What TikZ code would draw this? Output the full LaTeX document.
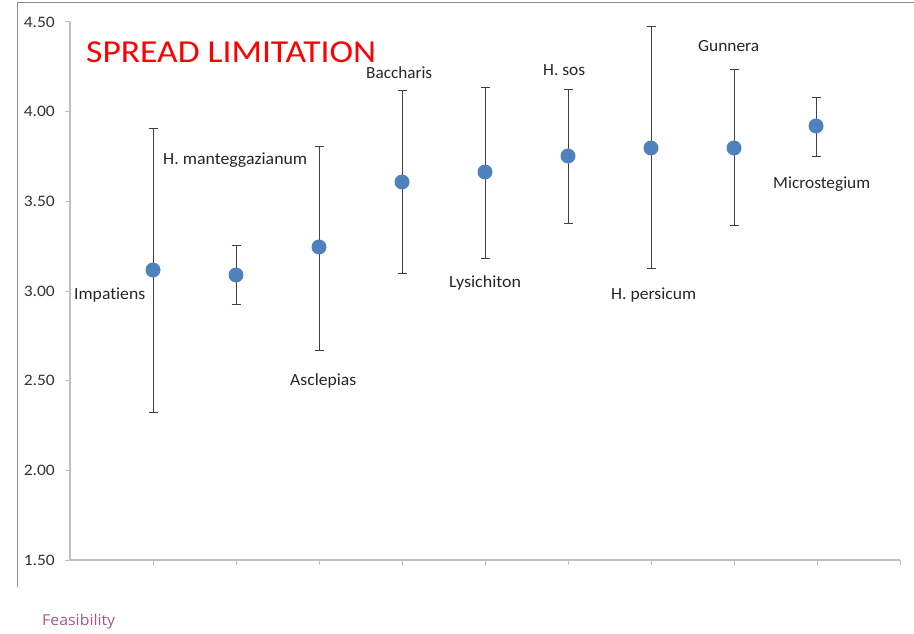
\documentclass[tikz,border=0pt]{standalone}
\usepackage{fontspec}
\usepackage{graphicx}
\setmainfont{Carlito}[Ligatures=NoCommon]
\newfontfamily\feasfont{Open Sans}
\definecolor{mark}{HTML}{4F81BD}
\definecolor{axisgray}{HTML}{BFBFBF}
\definecolor{framegray}{HTML}{8C8C8C}
\definecolor{feas}{HTML}{A5578A}
\newcommand\fitw[2]{\resizebox{#1pt}{\height}{#2}}
\begin{document}
\begin{tikzpicture}[x=1pt,y=-1pt,
  lab/.style={font=\fontsize{17}{19}\selectfont, text=black!85, inner sep=0pt, anchor=west},
  tick/.style={font=\fontsize{16}{18}\selectfont, text=black!80, inner sep=0pt, anchor=east},
  bar/.style={draw=black!75, line width=0.9pt},
  pt/.style={circle, fill=mark, minimum size=15pt, inner sep=0pt, draw=none}]
\useasboundingbox (0,0) rectangle (914,634);
% frame
\draw[framegray, line width=1.5pt] (17.5,587) -- (17.5,2.5) -- (914,2.5);
% axes
\draw[axisgray, line width=1.5pt] (70,22) -- (70,560) -- (900,560);
\foreach \v/\y in {4.50/22,4.00/111.7,3.50/201.3,3.00/291,2.50/380.7,2.00/470.3,1.50/560}{
  \draw[axisgray, line width=1pt] (65,\y) -- (70,\y);
  \node[tick] at (55,\y) {\fitw{31}{\v}};
}
\foreach \i in {1,...,10}{
  \draw[axisgray, line width=1pt] ({70+83*\i},560) -- ({70+83*\i},565);
}
% data: x, mean, top, bottom
\foreach \n/\x/\m/\t/\b in {a/153/270/128/412, b/236/275/245/304, c/319/247/146/350,
  d/402/182/90/273, e/485/172/87/258, f/568/156/89/223, g/651/148/26/268,
  h/734/148/69/225, k/816/126/97/156}{
  \coordinate (\n t) at (\x,\t);
  \coordinate (\n b) at (\x,\b);
  \draw[bar] (\n t) -- (\n b);
  \draw[bar] ([xshift=-4.5pt]\n t) -- ([xshift=4.5pt]\n t);
  \draw[bar] ([xshift=-4.5pt]\n b) -- ([xshift=4.5pt]\n b);
  \node[pt] (\n) at (\x,\m) {};
}
% title
\node[font=\fontsize{32}{34}\selectfont, text=red, anchor=west, inner sep=0pt] (title) at (86,52) {\fitw{290}{SPREAD LIMITATION}};
% labels
\node[lab] (la) at (74,295) {\fitw{71}{Impatiens}};
\node[lab] (lb) at (163,160) {\fitw{144}{H. manteggazianum}};
\node[lab] (lc) at (290,381) {\fitw{66}{Asclepias}};
\node[lab] (ld) at (366,73) {\fitw{66}{Baccharis}};
\node[lab] (le) at (449,283) {\fitw{72}{Lysichiton}};
\node[lab] (lf) at (543,70) {\fitw{42}{H. sos}};
\node[lab] (lg) at (611,295) {\fitw{85}{H. persicum}};
\node[lab] (lh) at (698,46) {\fitw{61}{Gunnera}};
\node[lab] (lk) at (773,184) {\fitw{97}{Microstegium}};
% footer
\node[font=\feasfont\fontsize{15}{17}\selectfont, text=feas, anchor=west, inner sep=0pt] (feasn) at (42,622) {\fitw{73}{Feasibility}};
\end{tikzpicture}
\end{document}
